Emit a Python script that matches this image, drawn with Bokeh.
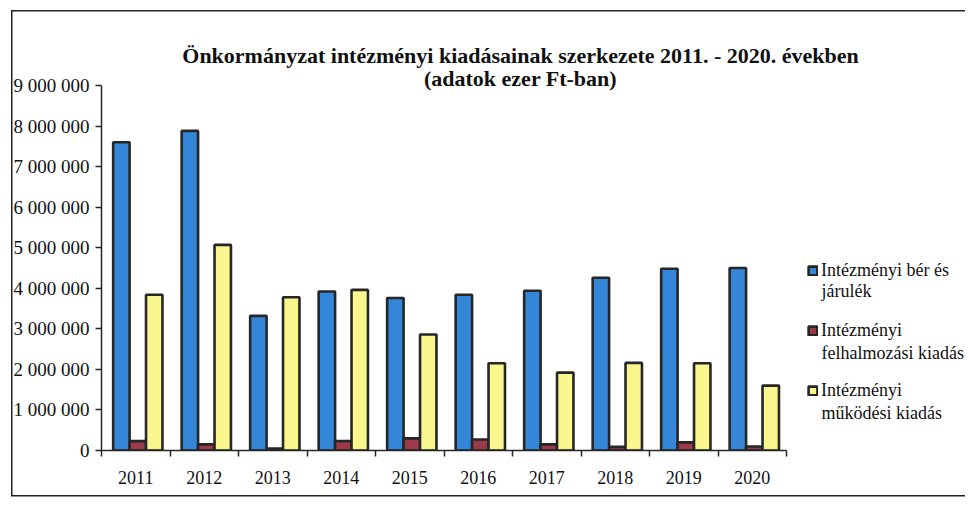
from bokeh.plotting import figure
from bokeh.models import (ColumnDataSource, Range1d, FixedTicker, Label, Legend, LegendItem)
from bokeh.transform import dodge
from bokeh.embed import file_html
from bokeh.resources import INLINE

years = ["2011", "2012", "2013", "2014", "2015", "2016", "2017", "2018", "2019", "2020"]
ber = [7600000, 7880000, 3320000, 3920000, 3760000, 3840000, 3940000, 4260000, 4480000, 4500000]
felhalm = [230000, 150000, 50000, 230000, 300000, 270000, 150000, 90000, 200000, 100000]
mukodes = [3840000, 5070000, 3780000, 3960000, 2860000, 2150000, 1920000, 2160000, 2150000, 1600000]
y_ticks = [0, 1000000, 2000000, 3000000, 4000000, 5000000, 6000000, 7000000, 8000000, 9000000]
legend_first = ["Intézményi bér és", "Intézményi", "Intézményi"]
legend_second = ["járulék", "felhalmozási kiadás", "működési kiadás"]
title_lines = ["Önkormányzat intézményi kiadásainak szerkezete 2011. - 2020. években",
               "(adatok ezer Ft-ban)"]
Y_MAX = 9000000

pos = [i + 0.5 for i in range(len(years))]
src = ColumnDataSource(dict(x=pos, ber=ber, felhalm=felhalm, mukodes=mukodes))

SERIF = "Liberation Serif"
DARK = "#262626"
colors = ["#3486d8", "#9c3a4a", "#f8f68c"]

# frame covers the whole area right of the value axis so that title and legend
# (drawn inside it) are not clipped; the axes are bounded to the data region.
FRAME_W, FRAME_H = 864, 450
PLOT_W, PLOT_H = 685, 365
p = figure(width=965, height=499, output_backend="svg", toolbar_location=None,
           x_range=Range1d(0, len(years) * FRAME_W / PLOT_W),
           y_range=Range1d(0, Y_MAX * FRAME_H / PLOT_H),
           min_border_left=101, min_border_right=0, min_border_top=0, min_border_bottom=49)
p.outline_line_color = None
p.xgrid.grid_line_color = None
p.ygrid.grid_line_color = None
p.border_fill_color = None
p.background_fill_color = None
p.styles = {
    "background-color": "white",
    "background-image": "linear-gradient(#222,#222), linear-gradient(#222,#222), linear-gradient(#222,#222)",
    "background-size": "1.5px 486px, 954px 1.5px, 954px 1.5px",
    "background-position": "11px 10px, 11px 10px, 11px 495px",
    "background-repeat": "no-repeat",
}

r1 = p.vbar(x=dodge("x", -0.21, range=p.x_range), top="ber", width=0.24, source=src,
            fill_color=colors[0], line_color=DARK, line_width=2.6)
r2 = p.vbar(x=dodge("x", 0.03, range=p.x_range), top="felhalm", width=0.24, source=src,
            fill_color=colors[1], line_color=DARK, line_width=2.6)
r3 = p.vbar(x=dodge("x", 0.27, range=p.x_range), top="mukodes", width=0.24, source=src,
            fill_color=colors[2], line_color=DARK, line_width=2.6)

# y axis
yax = p.yaxis[0]
yax.bounds = (0, Y_MAX)
yax.ticker = FixedTicker(ticks=y_ticks, minor_ticks=[])
yax.major_label_overrides = {t: f"{t:,}".replace(",", " ") for t in y_ticks}
yax.major_label_text_font = SERIF
yax.major_label_text_font_size = "19px"
yax.major_label_text_color = "#111"
yax.axis_line_color = DARK
yax.axis_line_width = 1.5
yax.major_tick_line_color = DARK
yax.major_tick_line_width = 1.5
yax.major_tick_out = 6
yax.major_tick_in = 0
yax.major_label_standoff = 6

# x axis: labels at category centres, ticks between categories
xax = p.xaxis[0]
xax.bounds = (0, len(years))
xax.ticker = FixedTicker(ticks=pos, minor_ticks=list(range(len(years) + 1)))
xax.major_label_overrides = {x: y for x, y in zip(pos, years)}
xax.major_label_text_font = SERIF
xax.major_label_text_font_size = "18px"
xax.major_label_text_color = "#111"
xax.axis_line_color = DARK
xax.axis_line_width = 1.5
xax.major_tick_out = 0
xax.major_tick_in = 0
xax.minor_tick_line_color = DARK
xax.minor_tick_line_width = 1.5
xax.minor_tick_out = 6
xax.minor_tick_in = 0
xax.major_label_standoff = 14

# title (screen units relative to the frame's bottom-left corner)
for txt, ty in zip(title_lines, [395, 372]):
    p.add_layout(Label(x=419, y=ty, x_units="screen", y_units="screen", text=txt,
                       text_font=SERIF, text_font_style="bold", text_font_size="22px",
                       text_align="center", text_baseline="middle", text_color="#111"))

legend = Legend(items=[LegendItem(label=legend_first[i], renderers=[r])
                       for i, r in enumerate([r1, r2, r3])],
                location=(706, 49), orientation="vertical")
legend.label_text_font = SERIF
legend.label_text_font_size = "18px"
legend.label_text_color = "#111"
legend.label_height = 21
legend.glyph_width = 11
legend.glyph_height = 11
legend.label_standoff = 3
legend.spacing = 39
legend.padding = 0
legend.margin = 0
legend.border_line_color = None
legend.background_fill_alpha = 0
p.add_layout(legend)

for txt, ty in zip(legend_second, [160, 98, 38]):
    p.add_layout(Label(x=720, y=ty, x_units="screen", y_units="screen", text=txt,
                       text_font=SERIF, text_font_size="18px", text_color="#111",
                       text_align="left", text_baseline="middle"))

open("out.html", "w").write(file_html(p, INLINE))
